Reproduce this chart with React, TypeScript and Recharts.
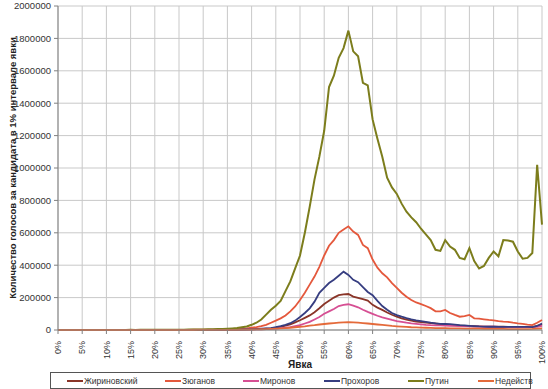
import React from "react";
import { LineChart, Line, XAxis, YAxis, CartesianGrid } from "recharts";

const turnout = [
  0, 1, 2, 3, 4, 5, 6, 7, 8, 9, 10, 11, 12, 13, 14, 15, 16, 17, 18, 19, 20,
  21, 22, 23, 24, 25, 26, 27, 28, 29, 30, 31, 32, 33, 34, 35, 36, 37, 38, 39, 40,
  41, 42, 43, 44, 45, 46, 47, 48, 49, 50, 51, 52, 53, 54, 55, 56, 57, 58, 59, 60,
  61, 62, 63, 64, 65, 66, 67, 68, 69, 70, 71, 72, 73, 74, 75, 76, 77, 78, 79, 80,
  81, 82, 83, 84, 85, 86, 87, 88, 89, 90, 91, 92, 93, 94, 95, 96, 97, 98, 99, 100,
];

const zhirinovsky = [
  0, 0, 0, 0, 0, 0, 0, 0, 0, 0,
  0, 0, 0, 0, 100, 100, 100, 200, 200, 200,
  200, 200, 300, 300, 300, 300, 400, 400, 400, 400,
  500, 600, 800, 1000, 1300, 1600, 2000, 2500, 3000, 3500,
  4000, 5000, 6000, 8000, 10000, 14000, 20000, 27000, 35000, 47000,
  60000, 75000, 90000, 110000, 134000, 160000, 180000, 200000, 215000, 220000,
  222000, 206000, 198000, 190000, 182000, 155000, 138000, 124000, 108000, 94000,
  82000, 72000, 64000, 58000, 52000, 48000, 45000, 42000, 40000, 36000,
  34000, 31000, 29000, 27000, 25000, 24000, 23000, 22000, 21000, 20000,
  20000, 20000, 20000, 19000, 19000, 19000, 18000, 18000, 18000, 25000, 35000,
];

const zyuganov = [
  0, 0, 0, 0, 0, 0, 0, 0, 0, 0,
  0, 0, 0, 100, 200, 200, 300, 300, 400, 500,
  500, 600, 700, 800, 900, 1000, 1100, 1200, 1400, 1600,
  1800, 2000, 2300, 2600, 3000, 3500, 4200, 5000, 7000, 10000,
  14000, 18000, 24000, 32000, 45000, 58000, 72000, 90000, 115000, 145000,
  185000, 230000, 280000, 330000, 390000, 460000, 520000, 555000, 600000, 620000,
  640000, 608000, 587000, 525000, 505000, 435000, 385000, 350000, 325000, 290000,
  260000, 230000, 205000, 185000, 170000, 160000, 148000, 135000, 115000, 115000,
  124000, 105000, 93000, 82000, 85000, 93000, 72000, 70000, 66000, 62000,
  60000, 55000, 52000, 50000, 45000, 41000, 38000, 33000, 30000, 45000, 62000,
];

const mironov = [
  0, 0, 0, 0, 0, 0, 0, 0, 0, 0,
  0, 0, 0, 0, 0, 100, 100, 100, 100, 100,
  100, 100, 100, 200, 200, 200, 200, 200, 300, 300,
  300, 400, 500, 700, 900, 1100, 1400, 1700, 2100, 2500,
  3000, 3700, 4500, 5500, 7000, 8500, 12000, 14000, 18000, 24000,
  30000, 40000, 50000, 65000, 80000, 100000, 115000, 130000, 148000, 155000,
  159000, 150000, 140000, 125000, 112000, 100000, 88000, 78000, 70000, 62000,
  55000, 50000, 45000, 41000, 38000, 35000, 32000, 30000, 29000, 28000,
  27000, 26000, 25000, 24000, 23000, 22000, 21000, 21000, 20000, 20000,
  20000, 19000, 19000, 19000, 18000, 18000, 18000, 18000, 18000, 20000, 25000,
];

const prokhorov = [
  0, 0, 0, 0, 0, 0, 0, 0, 0, 0,
  0, 0, 0, 0, 0, 0, 100, 100, 100, 100,
  100, 100, 200, 200, 200, 300, 300, 300, 400, 400,
  500, 600, 800, 1000, 1300, 1700, 2200, 2800, 3500, 4200,
  5000, 6000, 8000, 10000, 12000, 17000, 24000, 32000, 42000, 58000,
  80000, 105000, 134000, 175000, 230000, 260000, 290000, 310000, 335000, 360000,
  340000, 310000, 295000, 265000, 235000, 215000, 180000, 148000, 125000, 105000,
  92000, 82000, 73000, 66000, 60000, 55000, 50000, 45000, 41000, 38000,
  37000, 36000, 33000, 30000, 28000, 26000, 24000, 22000, 21000, 20000,
  20000, 19000, 19000, 19000, 19000, 19000, 19000, 19000, 18000, 25000, 40000,
];

const putin = [
  0, 0, 0, 0, 0, 500, 0, 0, 0, 0,
  500, 300, 400, 500, 600, 800, 700, 800, 900, 1000,
  1200, 1300, 1500, 1600, 1800, 2000, 2200, 2500, 2800, 3000,
  3500, 4000, 4500, 5500, 6500, 8000, 10000, 12000, 17000, 22000,
  32000, 45000, 65000, 95000, 125000, 150000, 180000, 240000, 300000, 380000,
  460000, 600000, 760000, 930000, 1070000, 1230000, 1500000, 1570000, 1680000, 1740000,
  1848000, 1720000, 1690000, 1525000, 1510000, 1300000, 1180000, 1070000, 940000, 880000,
  840000, 780000, 730000, 695000, 665000, 625000, 590000, 555000, 495000, 488000,
  555000, 515000, 495000, 445000, 437000, 505000, 425000, 380000, 395000, 445000,
  485000, 455000, 555000, 552000, 545000, 485000, 440000, 445000, 475000, 1020000, 650000,
];

const invalid = [
  0, 0, 0, 0, 0, 0, 0, 0, 0, 0,
  0, 0, 0, 0, 0, 0, 0, 0, 0, 0,
  0, 100, 100, 100, 100, 100, 100, 100, 100, 200,
  200, 300, 400, 500, 600, 800, 1000, 1300, 1700, 2200,
  3000, 3800, 4600, 5500, 6500, 8000, 9500, 11000, 14000, 17000,
  20000, 23000, 27000, 30000, 34000, 37000, 40000, 43000, 46000, 47000,
  48000, 47000, 45000, 43000, 40000, 37000, 34000, 31000, 28000, 25000,
  23000, 21000, 19000, 17000, 16000, 15000, 14000, 13000, 12000, 11500,
  11000, 10500, 10000, 9500, 9000, 9000, 8500, 8000, 7500, 7000,
  7000, 6500, 6500, 6000, 6000, 6000, 6000, 6000, 6500, 8000, 10000,
];

const xTicks = [0, 5, 10, 15, 20, 25, 30, 35, 40, 45, 50, 55, 60, 65, 70, 75, 80, 85, 90, 95, 100];
const yTicks = [0, 200000, 400000, 600000, 800000, 1000000, 1200000, 1400000, 1600000, 1800000, 2000000];

const seriesNames = ["Жириновский", "Зюганов", "Миронов", "Прохоров", "Путин", "Недейств"];
const seriesKeys = ["zhirinovsky", "zyuganov", "mironov", "prokhorov", "putin", "invalid"];
const seriesColors = ["#8a3528", "#e4583c", "#d64f93", "#363d80", "#7c7d1c", "#e46a3a"];
const seriesValues = [zhirinovsky, zyuganov, mironov, prokhorov, putin, invalid];

const yTitle = "Количество голосов за кандидата в 1% интервале явки";
const xTitle = "Явка";

const data = turnout.map((t, i) => {
  const row: Record<string, number> = { turnout: t };
  seriesKeys.forEach((k, j) => {
    row[k] = seriesValues[j][i];
  });
  return row;
});

const FONT = "Arial, 'Liberation Sans', sans-serif";

const XTick = (props: any) => {
  const { x, y, payload } = props;
  return (
    <g transform={`translate(${x},${y})`}>
      <text
        transform="rotate(-90)"
        x={-5}
        y={0}
        dy={3.2}
        textAnchor="end"
        fontSize={9}
        fontFamily={FONT}
        fill="#333"
      >
        {payload.value + "%"}
      </text>
    </g>
  );
};

const legendOffsets = [16, 114, 192, 273, 357, 427];

export default function App() {
  return (
    <div style={{ position: "absolute", left: 0, top: 0, width: 548, height: 389, background: "#fff" }}>
      <LineChart
        width={548}
        height={389}
        data={data}
        margin={{ top: 6, right: 6, left: 0, bottom: 0 }}
      >
        <CartesianGrid stroke="#c9c9c9" strokeWidth={1} />
        <XAxis
          type="number"
          dataKey="turnout"
          domain={[0, 100]}
          ticks={xTicks}
          interval={0}
          height={59}
          tick={<XTick />}
          tickSize={4}
          axisLine={{ stroke: "#808080" }}
          tickLine={{ stroke: "#808080" }}
          label={{
            content: (p: any) => {
              const vb = p.viewBox;
              return (
                <text
                  x={vb.x + vb.width / 2}
                  y={vb.y + 38}
                  textAnchor="middle"
                  fontSize={10}
                  fontWeight="bold"
                  fontFamily={FONT}
                  fill="#222"
                >
                  {xTitle}
                </text>
              );
            },
          }}
        />
        <YAxis
          type="number"
          domain={[0, 2000000]}
          ticks={yTicks}
          interval={0}
          width={58}
          tickSize={4}
          tickMargin={3}
          tick={{ fontSize: 9.5, fontFamily: FONT, fill: "#333" }}
          axisLine={{ stroke: "#808080" }}
          tickLine={{ stroke: "#808080" }}
          label={{
            content: (p: any) => {
              const vb = p.viewBox;
              const cx = 12;
              const cy = vb.y + vb.height / 2;
              return (
                <text
                  x={cx}
                  y={cy}
                  transform={`rotate(-90, ${cx}, ${cy})`}
                  textAnchor="middle"
                  dominantBaseline="central"
                  fontSize={9.5}
                  fontWeight="bold"
                  fontFamily={FONT}
                  fill="#222"
                >
                  {yTitle}
                </text>
              );
            },
          }}
        />
        {seriesKeys.map((k, j) => (
          <Line
            key={k}
            type="linear"
            dataKey={k}
            name={seriesNames[j]}
            stroke={seriesColors[j]}
            strokeWidth={k === "putin" ? 2 : 1.8}
            dot={false}
            activeDot={false}
            isAnimationActive={false}
          />
        ))}
      </LineChart>
      <div
        style={{
          position: "absolute",
          left: 50,
          top: 372,
          width: 479,
          height: 15,
          border: "1px solid #555",
          background: "#fff",
        }}
      >
        {seriesNames.map((n, j) => (
          <div
            key={n}
            style={{
              position: "absolute",
              left: legendOffsets[j],
              top: 0,
              height: 15,
              display: "flex",
              alignItems: "center",
              fontFamily: FONT,
              fontSize: 8.5,
              color: "#333",
              whiteSpace: "nowrap",
            }}
          >
            <span
              style={{
                display: "inline-block",
                width: 16,
                height: 2,
                background: seriesColors[j],
                marginRight: 1,
              }}
            />
            {n}
          </div>
        ))}
      </div>
    </div>
  );
}
